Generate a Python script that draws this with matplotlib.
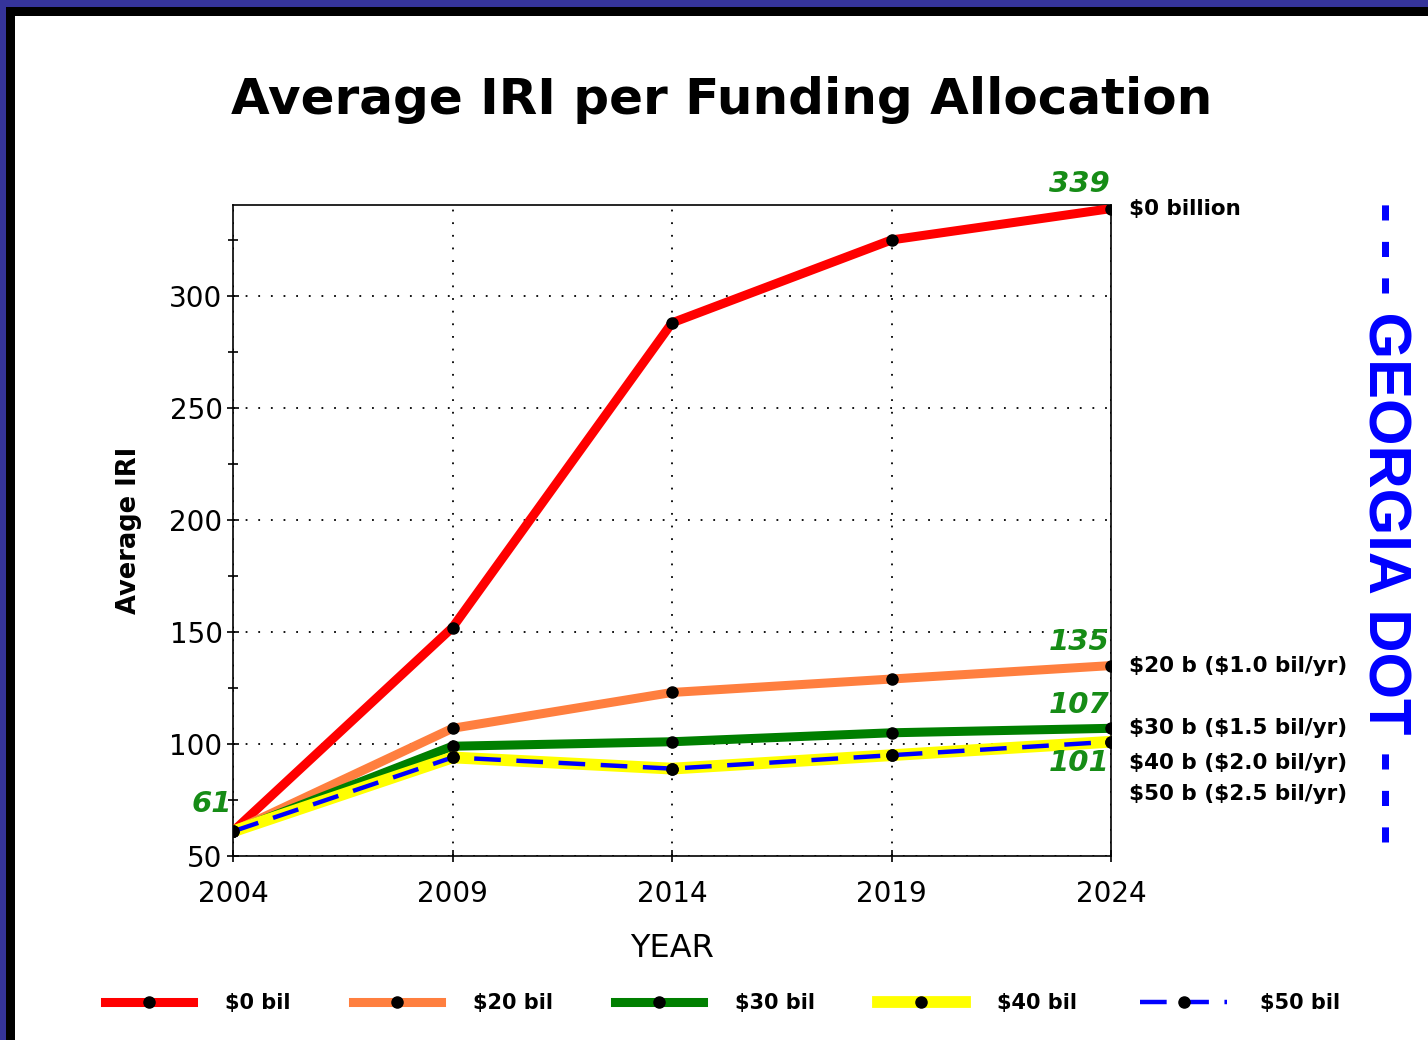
import matplotlib
matplotlib.use("Agg")
import matplotlib.pyplot as plt
from matplotlib.patches import Rectangle
from matplotlib.ticker import MultipleLocator

years = [2004, 2009, 2014, 2019, 2024]
iri_0 = [61, 152, 288, 325, 339]
iri_20 = [61, 107, 123, 129, 135]
iri_30 = [61, 99, 101, 105, 107]
iri_40 = [61, 94, 89, 95, 101]
iri_50 = [61, 94, 89, 95, 101]

legend_labels = [r"\$0 bil", r"\$20 bil", r"\$30 bil", r"\$40 bil", r"\$50 bil"]
end_labels = [r"\$0 billion", r"\$20 b (\$1.0 bil/yr)", r"\$30 b (\$1.5 bil/yr)",
              r"\$40 b (\$2.0 bil/yr)", r"\$50 b (\$2.5 bil/yr)"]

plt.rcParams["font.family"] = ["DejaVu Sans"]
plt.rcParams["axes.unicode_minus"] = False

fig = plt.figure(figsize=(14.28, 10.40), dpi=100)
fig.patch.set_facecolor("white")

# frame around the slide
fig.patches.append(Rectangle((0, 1 - 16 / 1040), 1, 16 / 1040, transform=fig.transFigure,
                             facecolor="black", edgecolor="none", zorder=0))
fig.patches.append(Rectangle((0, 0), 15 / 1428, 1, transform=fig.transFigure,
                             facecolor="black", edgecolor="none", zorder=0))
fig.patches.append(Rectangle((0, 1 - 7 / 1040), 1, 7 / 1040, transform=fig.transFigure,
                             facecolor="#35349a", edgecolor="none", zorder=1))
fig.patches.append(Rectangle((0, 0), 6 / 1428, 1, transform=fig.transFigure,
                             facecolor="#35349a", edgecolor="none", zorder=1))

ax = fig.add_axes([233 / 1428, 1 - 856 / 1040, (1111 - 233) / 1428, (856 - 205) / 1040])

series = [
    (iri_0, "#ff0000", 6.5),
    (iri_20, "#ff7f3f", 6.5),
    (iri_30, "#007f00", 6.5),
    (iri_40, "#ffff00", 8.5),
]
handles = []
for vals, color, lw in series:
    h, = ax.plot(years, vals, color=color, lw=lw, marker="o", ms=8,
                 mfc="black", mec="black", zorder=3)
    handles.append(h)
h50, = ax.plot(years, iri_50, color="#0000ff", ls=(0, (6, 3.5)), lw=3.2, marker="o", ms=8,
               mfc="black", mec="black", zorder=4)
handles.append(h50)

ax.set_xlim(2004, 2024)
ax.set_ylim(50, 340.6)
ax.set_xticks(years)
ax.yaxis.set_major_locator(MultipleLocator(50))
ax.yaxis.set_minor_locator(MultipleLocator(25))
ax.tick_params(axis="both", which="both", direction="inout", length=8, width=1.2,
               labelsize=20)
ax.tick_params(axis="x", pad=13)
ax.tick_params(axis="y", pad=3.5)
ax.tick_params(axis="y", which="minor", length=7)
for s in ax.spines.values():
    s.set_linewidth(1.2)

ax.grid(True, which="major", color="black", ls=(0, (1, 6)), lw=1.3)
ax.set_axisbelow(True)

ax.set_xlabel("YEAR", fontsize=23, labelpad=18)
ax.set_ylabel("Average IRI", fontsize=18.5, fontweight="bold", labelpad=20)

fig.text(0.505, 0.904, "Average IRI per Funding Allocation", ha="center", va="center",
         fontsize=36, fontweight="bold")

# green value labels
green = "#168c16"
lab_kw = dict(color=green, fontsize=21, fontweight="bold", style="italic",
              textcoords="offset points", va="center", ha="right")
ax.annotate(str(iri_0[0]), (years[0], iri_0[0]), xytext=(-1, 19.5), **lab_kw)
ax.annotate(str(iri_0[-1]), (years[-1], iri_0[-1]), xytext=(-1, 18), **lab_kw)
ax.annotate(str(iri_20[-1]), (years[-1], iri_20[-1]), xytext=(-1, 17), **lab_kw)
ax.annotate(str(iri_30[-1]), (years[-1], iri_30[-1]), xytext=(-1, 16.5), **lab_kw)
ax.annotate(str(iri_40[-1]), (years[-1], iri_40[-1]), xytext=(-1, -15), **lab_kw)

# end-of-line labels
end_offsets = [0, 0, 0, -15, -37.4]
end_values = [iri_0[-1], iri_20[-1], iri_30[-1], iri_40[-1], iri_50[-1]]
for txt, v, off in zip(end_labels, end_values, end_offsets):
    ax.annotate(txt, (years[-1], v), xytext=(13, off), textcoords="offset points",
                ha="left", va="center", fontsize=15.5, fontweight="bold", annotation_clip=False)

fig.text(0.969, 0.497, "- - - GEORGIA DOT - - -", rotation=-90, ha="center", va="center",
         color="#0000ff", fontsize=43, fontweight="bold", family="Liberation Sans")

leg = fig.legend(handles, legend_labels, loc="center", bbox_to_anchor=(0.506, 0.0356), ncol=5,
                 frameon=False, handlelength=4.2, handletextpad=1.55, columnspacing=3.0,
                 numpoints=1, prop=dict(size=15, weight="bold"))

fig.savefig("out.png", dpi=100, facecolor="white")
